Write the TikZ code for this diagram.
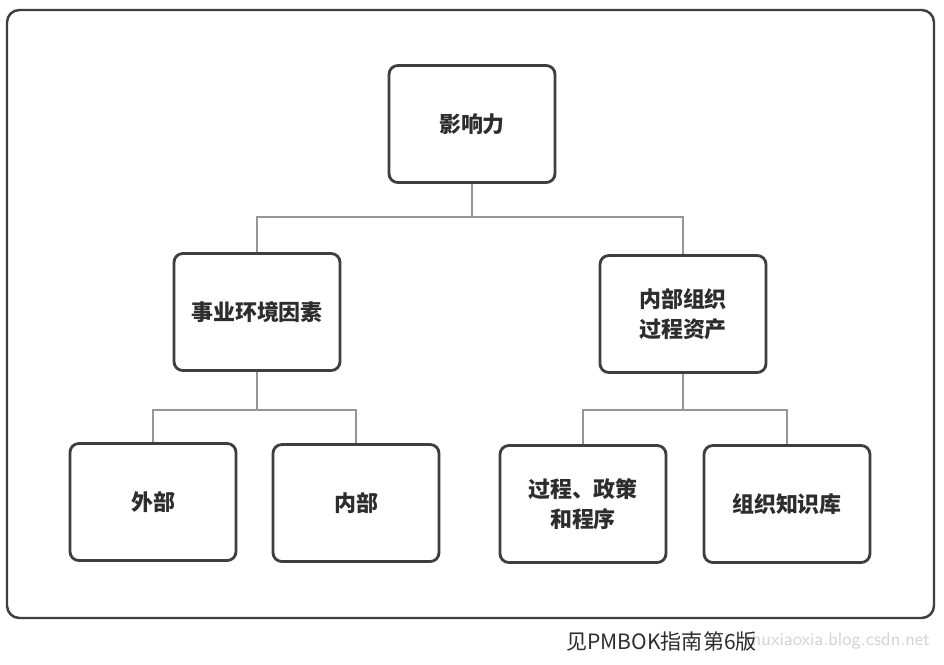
\documentclass[tikz,border=0pt]{standalone}
\usepackage{fontspec}
\newfontfamily\cjk{Noto Sans CJK SC}
\usetikzlibrary{positioning,calc}
\definecolor{boxLine}{RGB}{62,62,62}
\definecolor{connGray}{RGB}{150,150,150}
\definecolor{textDark}{RGB}{45,45,45}

\begin{document}
\begin{tikzpicture}[x=0.02cm, y=-0.02cm,
    box/.style={draw=boxLine, line width=1.6pt, rounded corners=5pt, fill=white,
      minimum width=3.32cm, minimum height=2.34cm, align=center,
      font=\cjk\bfseries\fontsize{12.5}{17}\selectfont, text=textDark},
    conn/.style={draw=connGray, line width=0.9pt}]
    % canvas and outer frame
    \useasboundingbox (0,0) rectangle (944,664);
    \fill[white] (0,0) rectangle (944,664);
    \draw[boxLine, line width=1.4pt, rounded corners=7pt] (7,10) rectangle (934,618);

    % level 1
    \node[box] (root) at (472,124) {影响力};

    % level 2
    \node[box] (eef) at (257,312) {事业环境因素};
    \node[box] (opa) at (683,314) {内部组织\\过程资产};

    % level 3
    \node[box] (ext) at (153,502) {外部};
    \node[box] (int) at (356,503) {内部};
    \node[box] (proc) at (583,504) {过程、政策\\和程序};
    \node[box] (know) at (787,504) {组织知识库};

    % connectors
    \draw[conn] (root.south) -- ++(0,33) -| (eef.north);
    \draw[conn] (root.south) -- ++(0,33) -| (opa.north);
    \draw[conn] (eef.south) -- ++(0,38) -| (ext.north);
    \draw[conn] (eef.south) -- ++(0,38) -| (int.north);
    \draw[conn] (opa.south) -- ++(0,36) -| (proc.north);
    \draw[conn] (opa.south) -- ++(0,36) -| (know.north);

    % caption and watermark
    \node[gray!35, font=\sffamily\fontsize{10.5}{12}\selectfont, anchor=east] (mark) at (936,641) {zhuxiaoxia.blog.csdn.net};
    \node[textDark, font=\cjk\fontsize{12}{14}\selectfont, anchor=west] (cap) at (560,641) {见PMBOK指南第6版};
\end{tikzpicture}
\end{document}
